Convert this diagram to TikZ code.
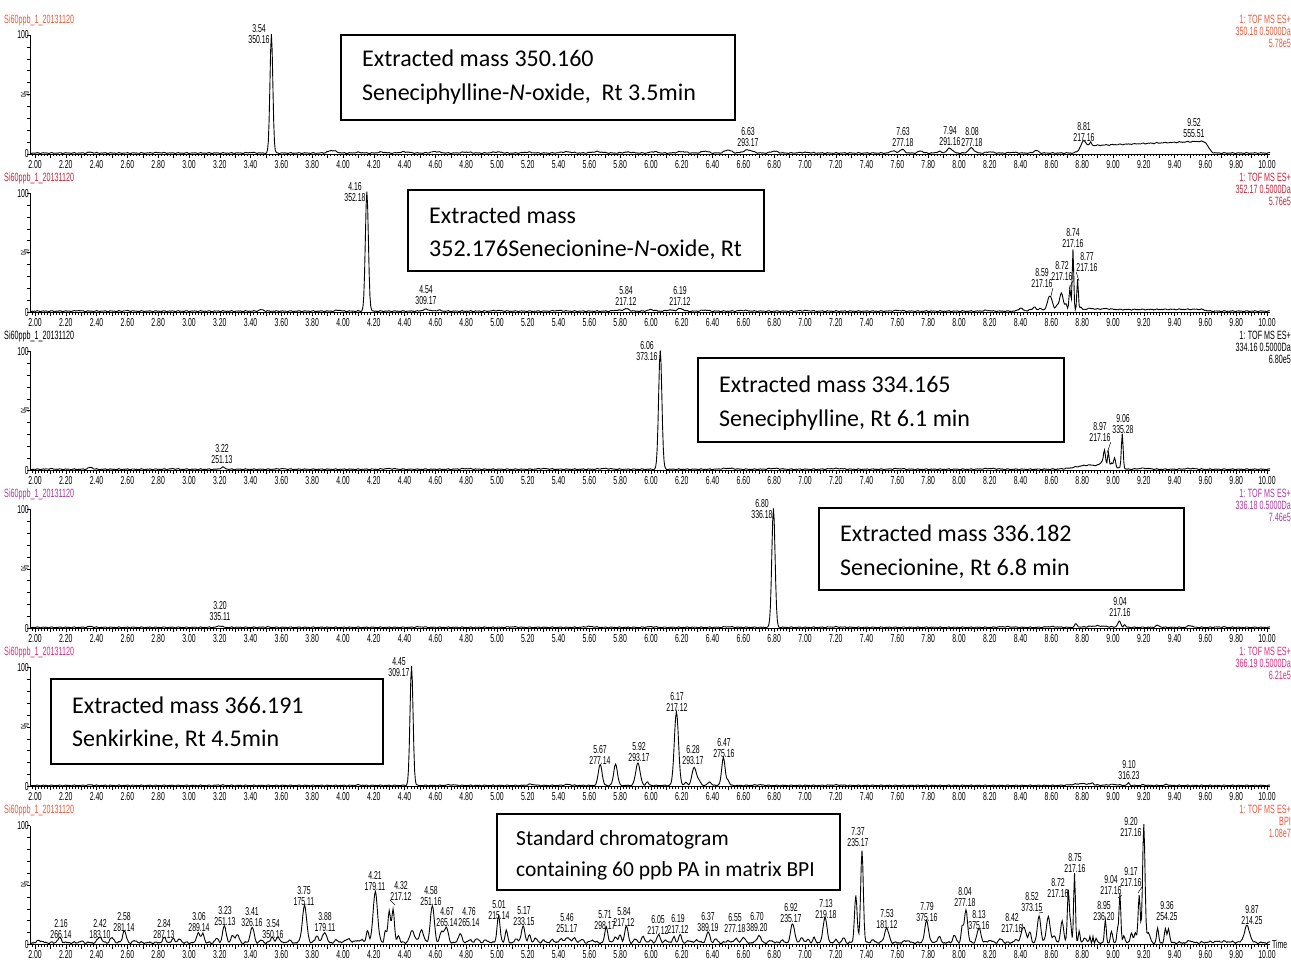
\documentclass[tikz,border=0pt]{standalone}
\usepackage{fontspec}
\setmainfont{Liberation Sans}
\newfontfamily\cnd[FakeStretch=0.6]{Liberation Sans}
\newfontfamily\bxf{Carlito}
\definecolor{cor}{HTML}{F0583C}
\definecolor{crd}{HTML}{CD2337}
\definecolor{cpu}{HTML}{AF37A5}
\definecolor{cpk}{HTML}{E8287D}
\newcount\trI \newcount\trK \newcount\trM
\newdimen\trX \newdimen\trYd
\def\trclear{\trI=-6\relax
  \loop
    \expandafter\gdef\csname tY\the\trI\endcsname{0}%
    \advance\trI by 1
  \ifnum\trI<1605 \repeat}
\def\pk#1#2#3{%
  \pgfmathsetmacro\pkc{(#1-2)*200}%
  \pgfmathsetmacro\pkw{(#3)*200}%
  \pgfmathtruncatemacro\pka{max(-6,\pkc-4*\pkw)}%
  \pgfmathtruncatemacro\pkb{min(1605,\pkc+4*\pkw+1)}%
  \trI=\pka\relax
  \loop
    \edef\pkold{\csname tY\the\trI\endcsname}%
    \pgfmathsetmacro\pkd{abs(\the\trI-\pkc)/\pkw}%
    \pgfmathsetmacro\pkv{\pkold+(#2)*exp(-\pkd*\pkd)}%
    \expandafter\xdef\csname tY\the\trI\endcsname{\pkv}%
    \advance\trI by 1
  \ifnum\trI<\pkb\relax\repeat}
\def\pks#1{\foreach \qa/\qb/\qc in {#1}{\pk{\qa}{\qb}{\qc}}}
\def\plat#1#2#3#4{\foreach \qn in {0,...,#2}{\pgfmathsetmacro\qt{#1+0.04*\qn}\pk{\qt}{(#3+(\qt-#1)*#4)/1.33}{0.03}}}
\def\mkn#1#2#3#4{\foreach \qk in {0,...,#2}{\pgfmathsetmacro\nzv{#4*sin(\qk*(360*#3/#2))}\expandafter\xdef\csname #1\qk\endcsname{\nzv}}}
\def\trdraw#1#2#3{%
  \begin{pgfscope}%
  \pgfsetlinewidth{0.9pt}\pgfsetstrokecolor{black}%
  \trI=-6\relax
  \loop
    \trK=\trI \advance\trK by 970
    \trM=\trK \divide\trM by 97 \multiply\trM by -97 \advance\trM by \trK
    \trYd=\csname nA\the\trM\endcsname pt
    \trM=\trK \divide\trM by 41 \multiply\trM by -41 \advance\trM by \trK
    \advance\trYd by \csname nB\the\trM\endcsname pt
    \trM=\trK \divide\trM by 23 \multiply\trM by -23 \advance\trM by \trK
    \advance\trYd by \csname nC\the\trM\endcsname pt
    \trYd=#3\trYd
    \advance\trYd by \csname tY\the\trI\endcsname pt
    \advance\trYd by #2pt
    \trYd=1.19\trYd
    \advance\trYd by -#1pt
    \trX=0.77pt \multiply\trX by \trI \advance\trX by 35pt
    \ifnum\trI=-6 \pgfpathmoveto{\pgfqpoint{\trX}{\trYd}}\else\pgfpathlineto{\pgfqpoint{\trX}{\trYd}}\fi
    \advance\trI by 1
  \ifnum\trI<1605 \repeat
  \pgfusepath{stroke}%
  \end{pgfscope}}
\newcommand\panelax[5]{%
  \draw[ax] (30,{#2-119}) -- (30,#2) -- (1270,#2);
  \draw[tk] \foreach \k in {-1,...,400}{({35+\k*3.08},#2) -- ++(0,2.5)};
  \draw[tk] \foreach \k in {0,...,80}{({35+\k*15.4},#2) -- ++(0,4)};
  \draw[tk] \foreach \k in {0,...,10}{(30,{#2-\k*11.9}) -- ++(-3,0)};
  \foreach \k in {0,...,40}{\node[tl] (t#1x\k) at ({35+\k*30.8},{#2+10.5}) {\pgfmathparse{2+0.2*\k}\pgfmathprintnumber[fixed,fixed zerofill,precision=2,assume math mode=true]{\pgfmathresult}};}
  \node[tl,anchor=east] (h#1) at (29,{#2-119}) {100};
  \node[tl,anchor=east] (z#1) at (29,#2) {0};
  \node[tl,rotate=90] (p#1) at (25,{#2-60}) {\%};
  \node[tt,text=#3,anchor=west] (ti#1) at (4,{#2-134}) {Si60ppb\_1\_20131120};
  \node[tt,text=#3,anchor=east,align=right] (r#1) at (1291,{#2-123}) {1: TOF MS ES+\\#4\\#5};
}
\newcommand\plab[5]{\node[pl] (#1) at (#2,{#3+5.5}) {#4\\#5};}
\begin{document}
\begin{tikzpicture}[x=1pt,y=-1pt,
  ax/.style={line width=0.8pt,black},
  tk/.style={line width=0.5pt,black},
  tl/.style={font=\cnd\fontsize{11.5}{11}\selectfont,inner sep=0pt},
  pl/.style={font=\cnd\fontsize{11.5}{11}\selectfont,align=center,inner sep=0pt},
  tt/.style={font=\cnd\fontsize{12}{12}\selectfont,inner sep=0pt},
  annbox/.style={draw=black,line width=1.4pt,fill=white,inner sep=0pt},
  bt/.style={font=\bxf\fontsize{24}{28}\selectfont,inner sep=0pt},
  bts/.style={font=\bxf\fontsize{21.5}{26}\selectfont,inner sep=0pt},
  ldr/.style={line width=0.5pt}]
\useasboundingbox (0,0) rectangle (1291,960);
\mkn{nA}{97}{10}{0.45}\mkn{nB}{41}{7}{0.35}\mkn{nC}{23}{8}{0.25}
% ---------- panel 1
\panelax{1}{154}{cor}{350.16 0.5000Da}{5.78e5}
\trclear
\pks{3.535/100/0.013,2.36/0.7/0.02,2.8/0.3/0.05,3.4/0.4/0.03,3.93/2.2/0.035,4.1/0.6/0.03,4.25/0.8/0.03,4.4/1/0.04,4.6/1.2/0.04,4.8/0.8/0.04,5.0/0.9/0.04,5.2/0.7/0.04,5.45/1/0.05,5.65/1.1/0.05,5.85/0.8/0.04,6.02/1.2/0.03,6.2/1.2/0.04,6.35/1.6/0.03,6.5/2.6/0.03,6.63/2.6/0.04,6.8/1.6/0.03,7.0/0.5/0.05,7.57/2/0.02,7.63/3/0.022,7.75/1.8/0.02,7.87/1.3/0.02,7.94/4/0.025,8.08/4.2/0.025,8.2/1/0.03,8.35/0.6/0.03,8.5/2.2/0.02,8.81/4.5/0.02,8.855/3/0.008}
\plat{8.80}{20}{6}{5}
\trdraw{154}{0.8}{0.5}
\plab{a1}{259}{29}{3.54}{350.16}
\plab{a2}{748}{132}{6.63}{293.17}
\plab{a3}{903}{132}{7.63}{277.18}
\plab{a4}{950}{131}{7.94}{291.16}
\plab{a5}{972}{132}{8.08}{277.18}
\plab{a6}{1084}{127}{8.81}{217.16}
\plab{a7}{1194}{123}{9.52}{555.51}
% ---------- panel 2
\panelax{2}{312.1}{crd}{352.17 0.5000Da}{5.76e5}
\trclear
\pks{4.155/100/0.014,2.28/0.5/0.02,2.6/0.3/0.03,3.47/1.2/0.02,3.97/0.9/0.02,4.54/1.5/0.03,4.62/0.8/0.02,5.0/0.5/0.04,5.4/0.5/0.04,5.78/0.8/0.03,5.84/2/0.025,6.0/1.2/0.03,6.12/1/0.03,6.19/2.2/0.025,6.35/0.9/0.03,6.6/0.6/0.04,7.0/0.4/0.05,7.6/0.5/0.04,8.18/0.6/0.03,8.40/2.5/0.02,8.46/1/0.02,8.49/3.5/0.015,8.53/2.5/0.015,8.59/13/0.022,8.635/4/0.012,8.665/15/0.018,8.695/5/0.01,8.72/19/0.008,8.74/52/0.007,8.77/27/0.007,8.79/3/0.01,8.85/1/0.04,8.95/0.8/0.05}
\plat{8.82}{19}{1.2}{0.5}
\trdraw{312.1}{0.8}{0.5}
\plab{b1}{355}{187}{4.16}{352.18}
\plab{b2}{426}{290}{4.54}{309.17}
\plab{b3}{626}{290}{5.84}{217.12}
\plab{b4}{680}{290}{6.19}{217.12}
\plab{b5}{1042}{273}{8.59}{217.16}
\plab{b6}{1062}{266}{8.72}{217.16}
\plab{b7}{1073}{233}{8.74}{217.16}
\plab{b8}{1087}{257}{8.77}{217.16}
\coordinate (cb5) at (1051,296);
\coordinate (cb6) at (1069,289);
\coordinate (cb8) at (1079,281);
\draw[ldr] (b5.south east) -- (cb5);
\draw[ldr] (b6.south east) -- (cb6);
\draw[ldr] (b8.south west) -- (cb8);
% ---------- panel 3
\panelax{3}{470.2}{black}{334.16 0.5000Da}{6.80e5}
\trclear
\pks{6.06/100/0.015,2.36/1.6/0.02,2.1/0.4/0.03,2.9/0.4/0.03,3.22/1.6/0.02,3.6/0.4/0.04,4.3/0.5/0.05,4.8/0.5/0.05,5.3/0.5/0.05,5.7/0.6/0.05,6.5/0.8/0.05,6.8/0.7/0.05,7.2/0.6/0.06,7.6/0.5/0.05,8.2/0.6/0.06,8.85/3.5/0.12,8.93/4/0.02,8.945/12/0.009,8.97/13/0.008,8.99/4/0.008,9.01/9/0.01,9.035/1/0.01,9.06/30/0.008,9.2/0.8/0.05,9.5/0.6/0.05}
\trdraw{470.2}{0.8}{0.5}
\plab{c1}{647}{346}{6.06}{373.16}
\plab{c2}{222}{449}{3.22}{251.13}
\plab{c3}{1100}{427}{8.97}{217.16}
\plab{c4}{1123}{419}{9.06}{335.28}
\coordinate (cc3) at (1107,453);
\draw[ldr] (c3.south east) -- (cc3);
% ---------- panel 4
\panelax{4}{628.3}{cpu}{336.18 0.5000Da}{7.46e5}
\trclear
\pks{6.795/100/0.015,2.36/0.8/0.02,3.20/1.3/0.02,3.5/0.3/0.03,4.5/0.4/0.04,5.1/0.4/0.04,5.6/0.7/0.04,6.0/0.5/0.04,6.5/0.5/0.04,7.2/0.4/0.05,8.3/0.5/0.06,8.6/0.6/0.05,8.76/2.8/0.012,8.9/1.2/0.08,9.04/5/0.014,9.075/2.2/0.009,9.29/1.6/0.018,9.50/1.6/0.018,9.7/0.3/0.05}
\trdraw{628.3}{0.8}{0.5}
\plab{d1}{762}{504}{6.80}{336.18}
\plab{d2}{220}{606}{3.20}{335.11}
\plab{d3}{1120}{602}{9.04}{217.16}
% ---------- panel 5
\panelax{5}{786.4}{cpk}{366.19 0.5000Da}{6.21e5}
\trclear
\pks{4.445/100/0.014,2.36/0.5/0.02,3.2/0.3/0.03,4.1/0.4/0.03,4.7/0.5/0.04,5.22/1/0.03,5.46/0.8/0.03,5.67/18/0.017,5.77/18/0.017,5.915/19/0.02,5.975/3/0.012,6.165/62/0.019,6.225/2.5/0.012,6.28/15/0.02,6.31/4/0.015,6.38/2.5/0.02,6.47/23/0.016,6.5/4/0.012,6.7/0.5/0.04,7.2/0.4/0.05,8.8/1.5/0.08,8.865/1.5/0.01,9.0/0.8/0.05,9.10/2/0.01,9.2/0.5/0.02,9.35/1/0.012}
\trdraw{786.4}{0.8}{0.5}
\plab{e1}{399}{662}{4.45}{309.17}
\plab{e2}{600}{749}{5.67}{277.14}
\plab{e3}{639}{747}{5.92}{293.17}
\plab{e4}{677}{696}{6.17}{217.12}
\plab{e5}{693}{750}{6.28}{293.17}
\plab{e6}{724}{743}{6.47}{275.16}
\plab{e7}{1129}{765}{9.10}{316.23}
% ---------- panel 6
\panelax{6}{944.5}{cor}{BPI}{1.08e7}
\node[tl,anchor=west] (time) at (1272,944.5) {Time};
\trclear
\pks{2.03/2/.02,2.16/4/.018,2.30/1/.02,2.42/5/.018,2.50/4/.018,2.58/10/.016,2.65/1.5/.02,2.84/4/.016,2.90/3.5/.014,2.94/3/.014,3.06/9/.014,3.09/8/.012,3.18/3.5/.015,3.23/14/.016,3.285/6/.015,3.315/6.5/.015,3.41/13/.017,3.47/2/.015,3.54/5/.014,3.58/5/.014,3.65/2/.015,3.75/31/.02,3.83/6/.015,3.88/9/.018,3.96/2/.02,4.03/3.5/.02,4.08/2/.015,4.12/3/.015,4.16/10/.012,4.21/43/.02,4.275/10/.01,4.30/26/.012,4.325/28/.012,4.36/6/.012,4.45/10/.022,4.51/11/.018,4.58/31/.018,4.64/9/.015,4.67/13/.018,4.76/8/.015,4.82/2/.02,4.87/3/.02,4.93/2/.02,5.01/22/.014,5.06/10/.012,5.13/3/.02,5.17/14/.015,5.21/6/.013,5.25/4/.013,5.30/2/.015,5.36/2/.02,5.42/3/.02,5.46/4/.018,5.50/3.5/.018,5.55/2.5/.018,5.62/2/.02,5.71/13/.014,5.77/5/.015,5.80/6/.012,5.84/14/.015,5.90/3/.015,5.95/5/.015,6.00/2/.015,6.05/7/.014,6.10/2/.015,6.15/5/.012,6.19/7/.012,6.25/2/.015,6.30/2.5/.015,6.37/9/.016,6.42/3/.015,6.50/2/.015,6.55/4/.014,6.60/5/.014,6.70/6/.018,6.78/2/.015,6.85/2/.015,6.92/16/.018,6.98/5/.012,7.02/3/.012,7.06/4/.012,7.13/22/.017,7.20/2/.015,7.25/4/.013,7.33/40/.012,7.37/78/.012,7.44/2/.02,7.53/12/.02,7.66/2/.02,7.79/18/.018,7.87/5/.015,7.97/6/.015,8.02/12/.01,8.045/28/.015,8.13/12/.018,8.20/2/.02,8.27/3/.018,8.37/2/.02,8.42/13/.022,8.46/8/.012,8.52/22/.016,8.58/22/.017,8.62/6/.012,8.67/18/.014,8.71/44/.009,8.725/15/.008,8.75/58/.008,8.78/10/.008,8.82/4/.015,8.85/5/.005,8.87/5/.005,8.89/4/.006,8.95/19/.008,8.99/9/.01,9.03/12/.008,9.045/40/.008,9.07/6/.01,9.12/9/.01,9.145/8/.01,9.17/40/.01,9.20/99/.011,9.23/8/.015,9.29/12/.009,9.34/11/.009,9.36/12/.01,9.50/2/.015,9.7/1/.1,9.87/14/.025}
\trdraw{944.5}{1.5}{1}
\plab{f1}{61}{924}{2.16}{266.14}
\plab{f2}{100}{924}{2.42}{183.10}
\plab{f3}{124}{917}{2.58}{281.14}
\plab{f4}{164}{924}{2.84}{287.13}
\plab{f5}{199}{917}{3.06}{289.14}
\plab{f6}{225}{911}{3.23}{251.13}
\plab{f7}{252}{912}{3.41}{326.16}
\plab{f8}{273}{924}{3.54}{350.16}
\plab{f9}{304}{891}{3.75}{175.11}
\plab{f10}{325}{917}{3.88}{179.11}
\plab{f11}{375}{876}{4.21}{179.11}
\plab{f12}{401}{885}{4.32}{217.12}
\plab{f13}{431}{891}{4.58}{251.16}
\plab{f14}{447}{912}{4.67}{265.14}
\plab{f15}{469}{912}{4.76}{265.14}
\plab{f16}{499}{905}{5.01}{215.14}
\plab{f17}{524}{911}{5.17}{233.15}
\plab{f18}{567}{918}{5.46}{251.17}
\plab{f19}{605}{915}{5.71}{298.17}
\plab{f20}{624}{911}{5.84}{217.12}
\plab{f21}{658}{919}{6.05}{217.12}
\plab{f22}{678}{918}{6.19}{217.12}
\plab{f23}{708}{917}{6.37}{389.19}
\plab{f24}{735}{918}{6.55}{277.18}
\plab{f25}{757}{917}{6.70}{389.20}
\plab{f26}{791}{908}{6.92}{235.17}
\plab{f27}{826}{904}{7.13}{219.18}
\plab{f28}{858}{832}{7.37}{235.17}
\plab{f29}{887}{914}{7.53}{181.12}
\plab{f30}{927}{907}{7.79}{375.16}
\plab{f31}{965}{892}{8.04}{277.18}
\plab{f32}{979}{915}{8.13}{375.16}
\plab{f33}{1012}{918}{8.42}{217.16}
\plab{f34}{1032}{897}{8.52}{373.15}
\plab{f35}{1058}{883}{8.72}{217.16}
\plab{f36}{1075}{858}{8.75}{217.16}
\plab{f37}{1104}{906}{8.95}{236.20}
\plab{f38}{1111}{880}{9.04}{217.16}
\plab{f39}{1131}{872}{9.17}{217.16}
\plab{f40}{1131}{822}{9.20}{217.16}
\plab{f41}{1167}{906}{9.36}{254.25}
\plab{f42}{1252}{910}{9.87}{214.25}
\coordinate (cf12) at (395,905);
\coordinate (cf33) at (1022,928);
\coordinate (cf34) at (1039,913);
\coordinate (cf35) at (1067,890);
\coordinate (cf38) at (1118,898);
\coordinate (cf39) at (1138,893);
\draw[ldr] (f12.south west) -- (cf12);
\draw[ldr] (f33.east) -- (cf33);
\draw[ldr] (f34.south east) -- (cf34);
\draw[ldr] (f35.south east) -- (cf35);
\draw[ldr] (f38.south east) -- (cf38);
\draw[ldr] (f39.south east) -- (cf39);
% ---------- annotation boxes
\node[annbox,minimum width=394pt,minimum height=85pt] (box1) at (538,77.5) {};
\node[bt,anchor=base west] (b1a) at (362,66.7) {Extracted mass 350.160};
\node[bt,anchor=base west] (b1b) at (362,100.7) {Seneciphylline-\textit{N}-oxide,\ \ Rt 3.5min};
\node[annbox,minimum width=356pt,minimum height=81pt] (box2) at (586,230.5) {};
\node[bt,anchor=base west] (b2a) at (429,224) {Extracted mass};
\node[bt,anchor=base west] (b2b) at (429,257) {352.176Senecionine-\textit{N}-oxide, Rt};
\node[annbox,minimum width=366pt,minimum height=84pt] (box3) at (881,400) {};
\node[bt,anchor=base west] (b3a) at (719,392) {Extracted mass 334.165};
\node[bt,anchor=base west] (b3b) at (719,426) {Seneciphylline, Rt 6.1 min};
\node[annbox,minimum width=365pt,minimum height=82pt] (box4) at (1001.5,549) {};
\node[bt,anchor=base west] (b4a) at (840,541) {Extracted mass 336.182};
\node[bt,anchor=base west] (b4b) at (840,575) {Senecionine, Rt 6.8 min};
\node[annbox,minimum width=332pt,minimum height=85pt] (box5) at (217,721.5) {};
\node[bt,anchor=base west] (b5a) at (72,713) {Extracted mass 366.191};
\node[bt,anchor=base west] (b5b) at (72,746) {Senkirkine, Rt 4.5min};
\node[annbox,minimum width=343pt,minimum height=76pt] (box6) at (668.5,852) {};
\node[bts,anchor=base west] (b6a) at (516,845) {Standard chromatogram};
\node[bts,anchor=base west] (b6b) at (516,876) {containing 60 ppb PA in matrix BPI};
\end{tikzpicture}
\end{document}
